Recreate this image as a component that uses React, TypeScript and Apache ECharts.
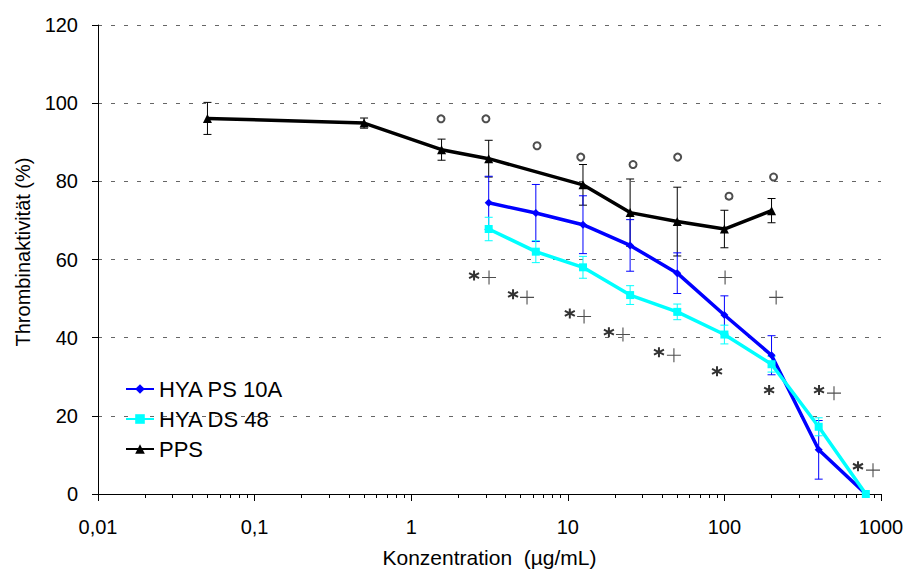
import React, { useEffect, useRef } from "react";
import * as echarts from "echarts";

// PPS
const ppsConc = [0.05, 0.5, 1.5625, 3.125, 12.5, 25, 50, 100, 200];
const ppsMean = [96.1, 94.9, 88.1, 85.8, 79.1, 72.0, 69.7, 67.8, 72.5];
const ppsErr = [4.1, 1.3, 2.7, 4.7, 5.2, 8.6, 8.8, 4.8, 3.1];

// HYA series
const hyaConc = [3.125, 6.25, 12.5, 25, 50, 100, 200, 400, 800];
const psMean = [74.5, 71.9, 68.9, 63.6, 56.5, 45.8, 35.5, 11.3, 0];
const psErr = [6.8, 7.3, 7.4, 6.6, 5.2, 4.9, 5.0, 7.5, 0];
const dsMean = [67.8, 62.0, 58.0, 50.9, 46.6, 40.8, 33.2, 17.2, 0];
const dsErr = [3.0, 2.8, 2.8, 2.4, 2.0, 2.4, 2.0, 2.3, 0];

// significance markers
const circleX = [1.55, 3.0, 6.36, 12.1, 26.1, 50.3, 107, 206];
const circleY = [96.0, 96.0, 89.1, 86.2, 84.3, 86.2, 76.2, 81.1];
const starX = [2.52, 4.47, 10.3, 18.3, 38.2, 89.7, 193, 402, 713];
const starY = [55.9, 51.1, 46.2, 41.4, 36.3, 31.4, 26.6, 26.6, 7.1];
const plusX = [3.14, 5.49, 12.7, 22.5, 47.6, 101, 214, 501, 889];
const plusY = [55.4, 50.3, 45.4, 40.8, 35.5, 55.4, 50.3, 25.8, 6.1];

const xMajorTicks = [0.01, 0.1, 1, 10, 100, 1000];
const xMinorMultipliers = [2, 3, 4, 5, 6, 7, 8, 9];
const xTickLabels = ["0,01", "0,1", "1", "10", "100", "1000"];

const FONT = "Arial, 'Liberation Sans', sans-serif";
const BLUE = "#0000ff";
const CYAN = "#00ffff";
const BLACK = "#000000";

const minorTicks: number[] = [];
for (let i = 0; i < xMajorTicks.length - 1; i++) {
  for (const m of xMinorMultipliers) minorTicks.push(+(xMajorTicks[i] * m).toPrecision(6));
}

function errorSeries(id: string, xs: number[], ms: number[], es: number[], color: string) {
  return {
    type: "custom",
    id,
    name: id,
    silent: true,
    z: 1,
    data: xs.map((x, i) => [x, ms[i], es[i]]),
    encode: { x: 0, y: 1 },
    renderItem: (params: any, api: any) => {
      const x = api.value(0);
      const m = api.value(1);
      const e = api.value(2);
      if (!e) return null;
      const top = api.coord([x, m + e]);
      const bot = api.coord([x, m - e]);
      const w = 4;
      const style = { stroke: color, lineWidth: 1 };
      return {
        type: "group",
        children: [
          { type: "line", shape: { x1: top[0], y1: top[1], x2: bot[0], y2: bot[1] }, style },
          { type: "line", shape: { x1: top[0] - w, y1: top[1], x2: top[0] + w, y2: top[1] }, style },
          { type: "line", shape: { x1: bot[0] - w, y1: bot[1], x2: bot[0] + w, y2: bot[1] }, style },
        ],
      };
    },
  };
}

export default function App() {
  const ref = useRef<HTMLDivElement>(null);
  useEffect(() => {
    document.body.style.margin = "0";
    if (!ref.current) return;
    const chart = echarts.init(ref.current, undefined, { renderer: "svg" });
    const labelMap: Record<string, string> = {};
    xMajorTicks.forEach((v, i) => (labelMap[String(v)] = xTickLabels[i]));
    chart.setOption({
      animation: false,
      textStyle: { fontFamily: FONT },
      grid: { left: 98, right: 26, top: 25, bottom: 78 },
      xAxis: [
        {
          type: "log",
          logBase: 10,
          min: 0.01,
          max: 1000,
          axisLine: { show: true, lineStyle: { color: BLACK, width: 1 } },
          axisTick: { show: true, length: 7, lineStyle: { color: BLACK } },
          minorTick: { show: false },
          axisLabel: {
            margin: 23,
            fontSize: 20,
            color: BLACK,
            fontFamily: FONT,
            formatter: (v: number) => labelMap[String(+v.toPrecision(6))] ?? String(v).replace(".", ","),
          },
          splitLine: { show: false },
          name: "Konzentration  (µg/mL)",
          nameLocation: "middle",
          nameGap: 53,
          nameTextStyle: { fontSize: 21, color: BLACK, fontFamily: FONT },
        },
        {
          type: "log",
          logBase: 10,
          min: 0.01,
          max: 1000,
          position: "bottom",
          axisLine: { show: false },
          axisLabel: { show: false },
          axisTick: { show: true, length: 4, customValues: minorTicks, lineStyle: { color: BLACK } },
          splitLine: { show: false },
        },
      ],
      yAxis: {
        type: "value",
        min: 0,
        max: 120,
        interval: 20,
        axisLine: { show: true, lineStyle: { color: BLACK, width: 1 } },
        axisTick: { show: true, length: 6, lineStyle: { color: BLACK } },
        axisLabel: { margin: 20, fontSize: 20, color: BLACK, fontFamily: FONT },
        splitLine: { show: true, lineStyle: { type: [4, 9], color: "#666", width: 1 } },
      },
      legend: {
        data: ["HYA PS 10A", "HYA DS 48", "PPS"],
        orient: "vertical",
        left: 125,
        top: 378,
        padding: 0,
        itemWidth: 28,
        itemHeight: 12,
        itemGap: 8,
        textStyle: { fontSize: 22, color: BLACK, fontFamily: FONT },
      },
      graphic: [
        {
          type: "text",
          x: 23,
          y: 252,
          rotation: Math.PI / 2,
          style: {
            text: "Thrombinaktivität (%)",
            fontSize: 20,
            fontFamily: FONT,
            fill: BLACK,
            align: "center",
            verticalAlign: "middle",
          },
        },
      ],
      series: [
        errorSeries("PPS err", ppsConc, ppsMean, ppsErr, BLACK),
        errorSeries("PS err", hyaConc, psMean, psErr, BLUE),
        errorSeries("DS err", hyaConc, dsMean, dsErr, CYAN),
        {
          type: "line",
          name: "PPS",
          data: ppsConc.map((x, i) => [x, ppsMean[i]]),
          symbol: "triangle",
          symbolSize: 9,
          lineStyle: { color: BLACK, width: 3.5 },
          itemStyle: { color: BLACK },
          z: 3,
        },
        {
          type: "line",
          name: "HYA PS 10A",
          data: hyaConc.map((x, i) => [x, psMean[i]]),
          symbol: "diamond",
          symbolSize: 8,
          lineStyle: { color: BLUE, width: 3.5 },
          itemStyle: { color: BLUE },
          z: 3,
        },
        {
          type: "line",
          name: "HYA DS 48",
          data: hyaConc.map((x, i) => [x, dsMean[i]]),
          symbol: "rect",
          symbolSize: 8,
          lineStyle: { color: CYAN, width: 3.5 },
          itemStyle: { color: CYAN },
          z: 4,
        },
        {
          type: "scatter",
          name: "circles",
          data: circleX.map((x, i) => [x, circleY[i]]),
          symbol: "emptyCircle",
          symbolSize: 7,
          itemStyle: { color: "#222", borderWidth: 1.1 },
          silent: true,
          z: 5,
        },
        {
          type: "scatter",
          name: "stars",
          data: starX.map((x, i) => [x, starY[i]]),
          symbol: "path://M5,0L5,10M0.67,2.5L9.33,7.5M0.67,7.5L9.33,2.5",
          symbolSize: 10,
          itemStyle: { color: "none", borderColor: "#000", borderWidth: 2 },
          silent: true,
          z: 5,
        },
        {
          type: "scatter",
          name: "pluses",
          data: plusX.map((x, i) => [x, plusY[i]]),
          symbol: "path://M0,7L14,7M7,0L7,14",
          symbolSize: 14,
          itemStyle: { color: "none", borderColor: "#222", borderWidth: 1.1 },
          silent: true,
          z: 5,
        },
      ],
    });
    return () => chart.dispose();
  }, []);
  return <div ref={ref} style={{ width: 907, height: 573 }} />;
}
